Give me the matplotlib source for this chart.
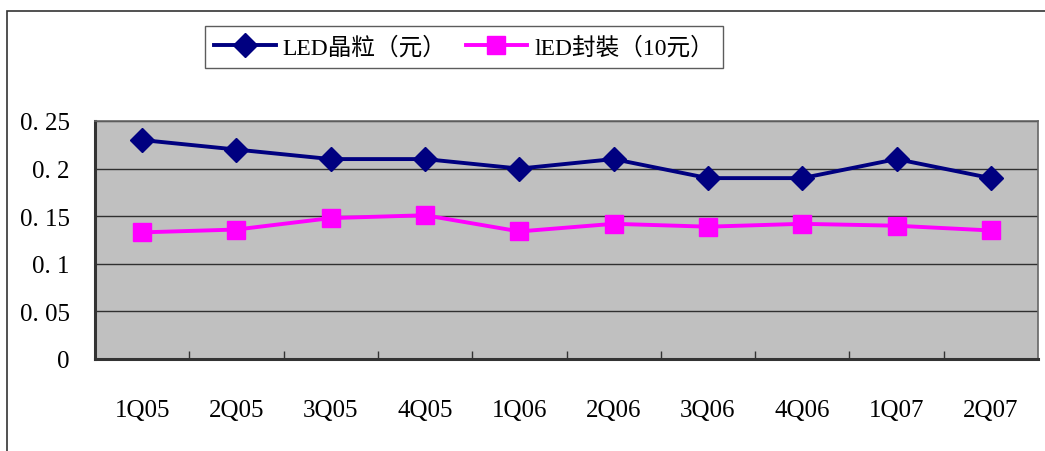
import matplotlib.pyplot as plt
import matplotlib.ticker as ticker
from matplotlib.patches import Rectangle

plt.rcParams['font.family'] = ['Liberation Serif', 'Noto Sans CJK TC', 'DejaVu Sans']

quarters = ["1Q05", "2Q05", "3Q05", "4Q05", "1Q06", "2Q06", "3Q06", "4Q06", "1Q07", "2Q07"]
chip_price = [0.23, 0.22, 0.21, 0.21, 0.20, 0.21, 0.19, 0.19, 0.21, 0.19]
package_price = [0.133, 0.136, 0.148, 0.151, 0.134, 0.142, 0.139, 0.142, 0.140, 0.135]
y_ticks = [0, 0.05, 0.1, 0.15, 0.2, 0.25]
y_labels = ["0", "0. 05", "0. 1", "0. 15", "0. 2", "0. 25"]

fig = plt.figure(figsize=(10.45, 4.52), dpi=100)
fig.patches.append(Rectangle((7 / 1045, -0.1), 1.2, 1 - 12 / 452 + 0.1,
                             transform=fig.transFigure, fill=False,
                             edgecolor="#333333", linewidth=1.2))

ax = fig.add_axes([95 / 1045, 1 - 360 / 452, 943 / 1045, 238 / 452])
ax.set_facecolor("#c0c0c0")

x = list(range(len(quarters)))
ax.plot(x, chip_price, color="#000080", linewidth=2.8, marker="D",
        markersize=12.5, label="LED晶粒（元）")
ax.plot(x, package_price, color="#ff00ff", linewidth=2.8, marker="s",
        markersize=13.5, label="lED封裝（10元）")

ax.set_xlim(-0.5, len(quarters) - 0.5)
ax.set_ylim(0, 0.25)
ax.set_yticks(y_ticks)
ax.yaxis.set_major_formatter(ticker.FixedFormatter(y_labels))
ax.yaxis.grid(True, color="#303030", linewidth=1.0)
ax.set_axisbelow(True)

ax.set_xticks(x)
ax.set_xticklabels(quarters)
ax.xaxis.set_minor_locator(ticker.FixedLocator([i + 0.5 for i in x[:-1]]))
ax.tick_params(axis="x", which="major", length=0, pad=29, labelsize=18)
ax.tick_params(axis="x", which="minor", direction="in", length=6,
               width=1, color="#333333")
ax.tick_params(axis="y", length=0, pad=18, labelsize=18)

for side in ["left", "bottom"]:
    ax.spines[side].set_linewidth(2.2)
    ax.spines[side].set_color("#333333")
for side in ["top", "right"]:
    ax.spines[side].set_linewidth(1.2)
    ax.spines[side].set_color("#666666")

leg = fig.legend(loc="center", bbox_to_anchor=(464 / 1045, 1 - 48 / 452),
                 ncol=2, frameon=True, fancybox=False, fontsize=17,
                 handlelength=2.6, columnspacing=0.8, handletextpad=0.3,
                 borderpad=0.4, edgecolor="#333333")
leg.get_frame().set_linewidth(1.0)

fig.savefig("out.png", dpi=100)
